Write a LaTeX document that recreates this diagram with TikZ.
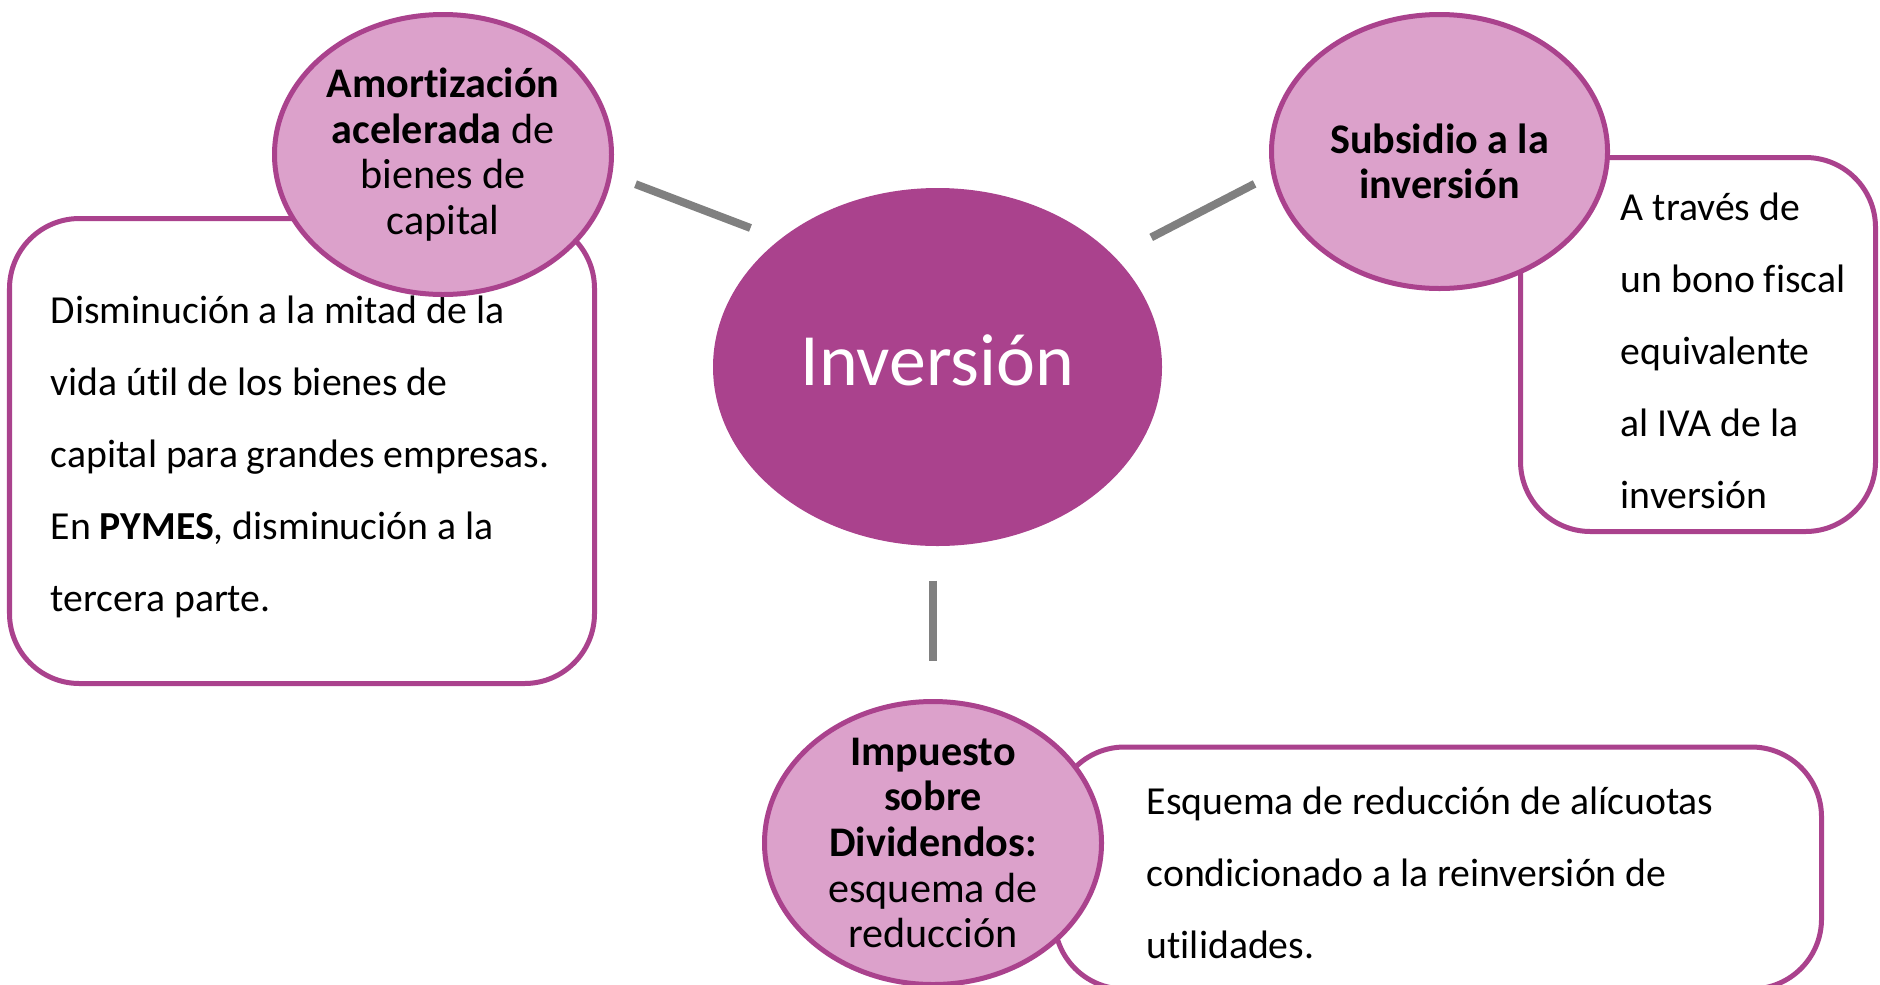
\documentclass[tikz,border=0pt]{standalone}
\usepackage{fontspec}
\setmainfont{Carlito}[Ligatures=NoCommon]
\usetikzlibrary{shapes.geometric}
\definecolor{plum}{RGB}{170,66,141}
\definecolor{lightplum}{RGB}{220,161,203}
\definecolor{linkgray}{RGB}{128,128,128}

\begin{document}
\begin{tikzpicture}[
        bubble/.style={ellipse, draw=plum, line width=0.05cm, fill=lightplum, inner sep=0pt},
        bubbletext/.style={align=center, inner sep=0pt, font=\fontsize{12}{13}\selectfont},
        descbox/.style={draw=plum, line width=0.05cm, fill=white, rounded corners=0.7cm},
        desctext/.style={align=left, anchor=west, inner sep=0pt, font=\fontsize{11.3}{20.5}\selectfont},
        link/.style={draw=linkgray, line width=0.08cm}]
        \useasboundingbox (0, 0) rectangle (18.8, -9.84);

        \node[descbox, minimum width=5.85cm, minimum height=4.65cm] (lbox) at (3.02, -4.51) {};
        \node[descbox, minimum width=3.55cm, minimum height=3.74cm] (rbox) at (16.98, -3.445) {};
        \node[descbox, minimum width=7.67cm, minimum height=2.42cm] (bbox) at (14.38, -8.68) {};

        \node[desctext] (ltext) at (0.50, -4.57) {Disminución a la mitad de la\\
            vida útil de los bienes de\\
            capital para grandes empresas.\\
            En \textbf{PYMES}, disminución a la\\
            tercera parte.};
        \node[desctext] (rtext) at (16.20, -3.51) {A través de\\
            un bono fiscal\\
            equivalente\\
            al IVA de la\\
            inversión};
        \node[desctext] (btext) at (11.46, -8.73) {Esquema de reducción de alícuotas\\
            condicionado a la reinversión de\\
            utilidades.};

        \node[ellipse, fill=plum, inner sep=0pt, minimum width=4.49cm, minimum height=3.58cm,
            label={[text=white, inner sep=0pt, yshift=0.07cm, font=\fontsize{21}{24}\selectfont]center:Inversión}]
            (inv) at (9.375, -3.67) {};

        \node[bubble, minimum width=3.37cm, minimum height=2.80cm,
            label={[bubbletext]center:{\textbf{Amortización}\\ \textbf{acelerada} de\\ bienes de\\ capital}}]
            (amort) at (4.43, -1.545) {};
        \node[bubble, minimum width=3.36cm, minimum height=2.74cm,
            label={[bubbletext, yshift=-0.1cm]center:{\textbf{Subsidio a la}\\ \textbf{inversión}}}]
            (subs) at (14.395, -1.515) {};
        \node[bubble, minimum width=3.37cm, minimum height=2.83cm,
            label={[bubbletext]center:{\textbf{Impuesto}\\ \textbf{sobre}\\ \textbf{Dividendos:}\\ esquema de\\ reducción}}]
            (imp) at (9.33, -8.43) {};

        \draw[link, shorten <=0.25cm, shorten >=0.31cm] (amort.-7.4) -- (inv.141.8);
        \draw[link, shorten <=0.41cm, shorten >=0.19cm] (inv.32.6) -- (subs.188.8);
        \draw[link, shorten <=0.34cm, shorten >=0.38cm] (imp.north |- inv.south) -- (imp.north);
    \end{tikzpicture}
\end{document}
